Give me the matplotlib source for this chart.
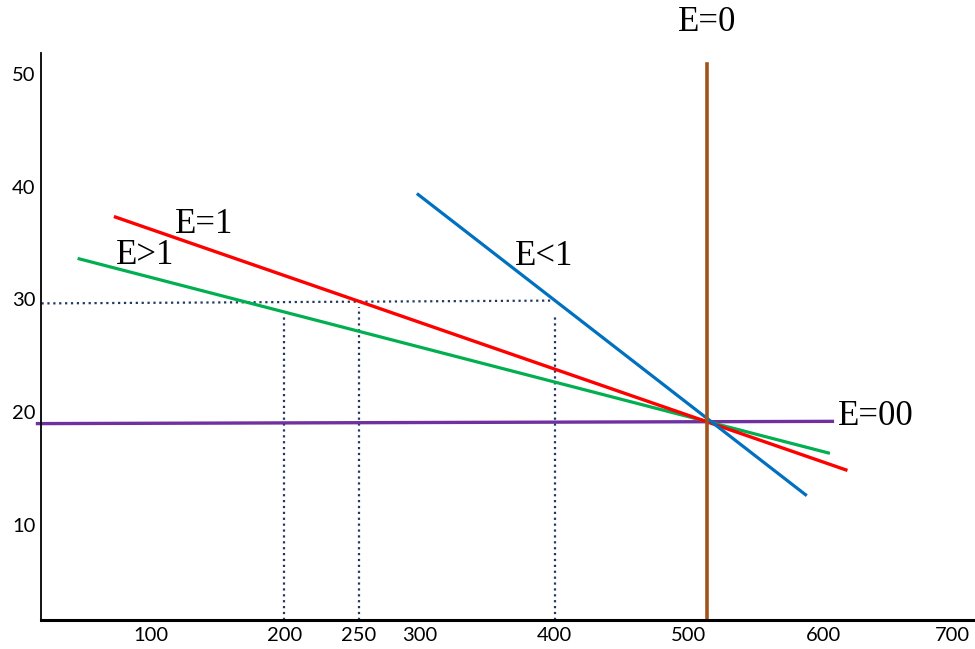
import matplotlib.pyplot as plt

# line end points (quantity, price)
red_x = [74, 617]
red_y = [37.3, 14.9]
green_x = [47, 604]
green_y = [33.6, 16.4]
blue_x = [299, 587]
blue_y = [39.3, 12.7]
purple_x = [16, 607]
purple_y = [19.0, 19.2]
brown_x = [514, 514]
brown_y = [1.6, 50.9]

# dotted guide lines
guide_h_x = [19, 401]
guide_h_y = [29.65, 29.9]
guide_v_x = [199, 255, 401]
guide_v_top = [28.6, 29.3, 28.6]

xtick_pos = [100, 200, 255, 300, 400, 500, 600, 696]
xtick_lab = ["100", "200", "250", "300", "400", "500", "600", "700"]
ytick_pos = [10, 20, 30, 40, 50]

labels = ["E=0", "E=1", "E>1", "E<1", "E=00"]
label_x = [514, 140, 96, 393, 639]
label_y = [54.5, 36.6, 33.9, 33.8, 19.6]

fig = plt.figure(figsize=(9.75, 6.49), dpi=100)
ax = fig.add_axes([0.042, 0.0447, 0.958, 0.873])

ax.plot(guide_h_x, guide_h_y, linestyle=":", color="#1f3864", lw=1.6)
for gx, gt in zip(guide_v_x, guide_v_top):
    ax.plot([gx, gx], [1.6, gt], linestyle=":", color="#1f3864", lw=1.6)

ax.plot(purple_x, purple_y, color="#7030a0", lw=2.4, clip_on=False)
ax.plot(green_x, green_y, color="#00b050", lw=2.3)
ax.plot(red_x, red_y, color="#ff0000", lw=2.4)
ax.plot(blue_x, blue_y, color="#0070c0", lw=2.3)
ax.plot(brown_x, brown_y, color="#a0541c", lw=2.6, clip_on=False)

for t, lx, ly in zip(labels, label_x, label_y):
    ax.text(lx, ly, t, ha="center", va="center", fontsize=25,
            family="Liberation Serif", clip_on=False)

ax.set_xlim(18.6, 713)
ax.set_ylim(1.6, 51.8)
ax.set_xticks(xtick_pos)
ax.set_xticklabels(xtick_lab)
ax.set_yticks(ytick_pos)
ax.tick_params(length=0, labelsize=14.5)
ax.tick_params(axis="x", pad=5)
ax.tick_params(axis="y", pad=4)
for lab in ax.get_xticklabels() + ax.get_yticklabels():
    lab.set_family("Lato")

ax.spines["top"].set_visible(False)
ax.spines["right"].set_visible(False)
ax.spines["left"].set_linewidth(1.3)
ax.spines["bottom"].set_linewidth(2.2)

fig.savefig("out.png", dpi=100)
